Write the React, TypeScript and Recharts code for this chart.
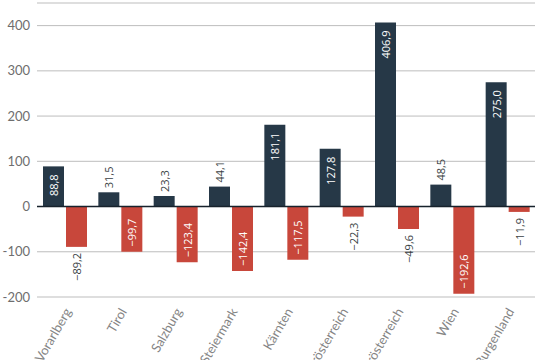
import { BarChart, Bar, XAxis, YAxis, CartesianGrid, ReferenceLine, LabelList } from "recharts";

const states = [
  "Vorarlberg",
  "Tirol",
  "Salzburg",
  "Steiermark",
  "Kärnten",
  "Oberösterreich",
  "Niederösterreich",
  "Wien",
  "Burgenland",
];
const plus = [88.8, 31.5, 23.3, 44.1, 181.1, 127.8, 406.9, 48.5, 275.0];
const minus = [-89.2, -99.7, -123.4, -142.4, -117.5, -22.3, -49.6, -192.6, -11.9];
const yTicks = [-200, -100, 0, 100, 200, 300, 400];

const data = states.map((name, i) => ({ name, plus: plus[i], minus: minus[i] }));

const fmt = (v: number) => (v < 0 ? "\u2212" : "") + Math.abs(v).toFixed(1).replace(".", ",");

// rough text length for 11px Open Sans
const textLen = (s: string) => {
  let w = 0;
  for (const c of s) w += c === "," ? 2.8 : 6.3;
  return w;
};

const ValueLabel = (props: any) => {
  const { x, y, width, height, value } = props;
  const txt = fmt(value);
  const top = Math.min(y, y + height);
  const bottom = Math.max(y, y + height);
  const h = bottom - top;
  const fits = textLen(txt) + 14 <= h;
  const cx = x + width / 2;
  let ty: number;
  let anchor: "start" | "end";
  if (value >= 0) {
    if (fits) {
      ty = top + 8;
      anchor = "end";
    } else {
      ty = top - 4;
      anchor = "start";
    }
  } else {
    if (fits) {
      ty = bottom - 5;
      anchor = "start";
    } else {
      ty = bottom + 6;
      anchor = "end";
    }
  }
  return (
    <text
      x={cx}
      y={ty}
      transform={`rotate(-90, ${cx}, ${ty})`}
      textAnchor={anchor}
      dominantBaseline="central"
      fontSize={11}
      fontFamily="Open Sans"
      fill={fits ? "#ffffff" : "#3a3f44"}
    >
      {txt}
    </text>
  );
};

const XTick = (props: any) => {
  const { x, y, payload } = props;
  return (
    <g transform={`translate(${x + 3}, ${y + 4})`}>
      <text
        x={0}
        y={0}
        textAnchor="end"
        dominantBaseline="central"
        transform="rotate(-60)"
        fontSize={13}
        fontFamily="Lato"
        fill="#858585"
      >
        {payload.value}
      </text>
    </g>
  );
};

export default function App() {
  return (
    <div style={{ position: "absolute", left: 0, top: 0, width: 540, height: 360, background: "#fff" }}>
      <BarChart
        width={540}
        height={360}
        data={data}
        margin={{ top: 3, right: 5, bottom: 0, left: 0 }}
        barSize={21}
        barGap={2}
      >
        <CartesianGrid vertical={false} stroke="#bdbdbd" />
        <XAxis
          dataKey="name"
          axisLine={false}
          tickLine={false}
          height={63}
          interval={0}
          tick={<XTick />}
        />
        <YAxis
          domain={[-200, 450]}
          ticks={yTicks}
          axisLine={false}
          tickLine={false}
          width={37}
          tickSize={0}
          tickMargin={7}
          tick={{ fontSize: 13, fontFamily: "Lato", fill: "#6e6e6e" }}
        />
        <ReferenceLine y={0} stroke="#17222c" strokeWidth={1.5} />
        <Bar dataKey="plus" fill="#263847" isAnimationActive={false}>
          <LabelList dataKey="plus" content={<ValueLabel />} />
        </Bar>
        <Bar dataKey="minus" fill="#c8473b" isAnimationActive={false}>
          <LabelList dataKey="minus" content={<ValueLabel />} />
        </Bar>
      </BarChart>
    </div>
  );
}
